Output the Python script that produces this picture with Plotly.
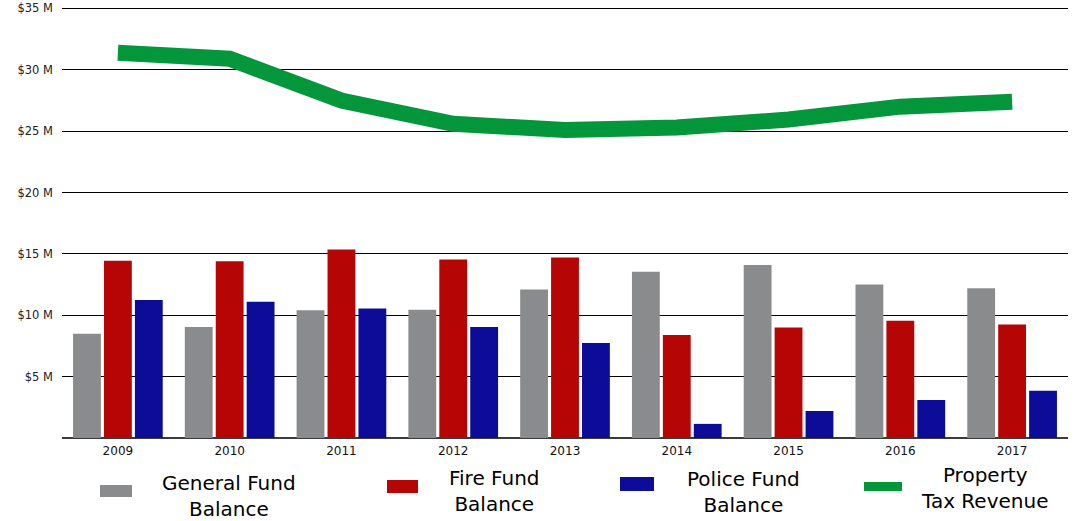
import plotly.graph_objects as go

# ---- data (values in $ millions) ----
years = ["2009", "2010", "2011", "2012", "2013", "2014", "2015", "2016", "2017"]
general_fund = [8.5, 9.05, 10.4, 10.45, 12.1, 13.55, 14.1, 12.5, 12.2]
fire_fund = [14.45, 14.4, 15.35, 14.55, 14.7, 8.4, 9.0, 9.55, 9.25]
police_fund = [11.25, 11.1, 10.55, 9.05, 7.75, 1.15, 2.2, 3.1, 3.85]
property_tax = [31.4, 30.9, 27.5, 25.6, 25.1, 25.3, 25.95, 27.0, 27.4]

series_names = ["General Fund<br>Balance", "Fire Fund<br>Balance",
                "Police Fund<br>Balance", "Property<br>Tax Revenue"]
colors = ["#898b8d", "#b60505", "#0c0c98", "#03963a"]

y_ticks = [5, 10, 15, 20, 25, 30, 35]
y_ticktext = ["$%d M" % v for v in y_ticks]

FONT = "DejaVu Sans"

fig = go.Figure()
for vals, name, col in zip([general_fund, fire_fund, police_fund], series_names[:3], colors[:3]):
    fig.add_trace(go.Bar(x=years, y=vals, name=name, marker=dict(color=col, line=dict(width=0)),
                         showlegend=False))
fig.add_trace(go.Scatter(x=years, y=property_tax, name=series_names[3], mode="lines",
                         line=dict(color=colors[3], width=16), showlegend=False))

# ---- custom legend (symbols + centered two-line labels) ----
W, H = 1078, 521
ml, mr, mt, mb = 62, 10, 6, 83
pw, ph = W - ml - mr, H - mt - mb


def px2x(px):
    return (px - ml) / pw


def py2y(py):
    return (H - mb - py) / ph


legend_symbols = [(100, 132, 485, 497), (387, 418, 480, 493), (620, 654, 477, 491), (864, 902, 482, 491)]
legend_text_pos = [(229, 496), (494, 491), (743, 492), (984, 488)]
shapes = []
annotations = []
for (x0, x1, y0, y1), (tx, ty), name, col in zip(legend_symbols, legend_text_pos, series_names, colors):
    shapes.append(dict(type="rect", xref="paper", yref="paper", x0=px2x(x0), x1=px2x(x1),
                       y0=py2y(y1), y1=py2y(y0), fillcolor=col, line=dict(width=0)))
    annotations.append(dict(xref="paper", yref="paper", x=px2x(tx), y=py2y(ty), text=name,
                            showarrow=False, align="center", xanchor="center", yanchor="middle",
                            font=dict(family=FONT, size=20, color="#000000")))

fig.update_layout(
    width=W, height=H, autosize=False,
    margin=dict(l=ml, r=mr, t=mt, b=mb, autoexpand=False),
    paper_bgcolor="white", plot_bgcolor="white",
    barmode="group", bargap=0.17, bargroupgap=0.1,
    font=dict(family=FONT, color="#222222"),
    shapes=shapes, annotations=annotations,
    xaxis=dict(showgrid=False, showline=False, ticks="", automargin=False,
               ticklabelstandoff=4,
               tickfont=dict(family=FONT, size=12, color="#111111")),
    yaxis=dict(range=[0, 35.2], tickvals=y_ticks, ticktext=y_ticktext, automargin=False,
               showgrid=True, gridcolor="#000000", gridwidth=1,
               zeroline=True, zerolinecolor="#3a3a3a", zerolinewidth=2,
               ticks="", ticklabelstandoff=8,
               tickfont=dict(family=FONT, size=11.5, color="#222222")),
)

fig.write_html("out.html", config={"displayModeBar": False},
               post_script="document.body.style.margin='0';document.body.style.overflow='hidden';")
